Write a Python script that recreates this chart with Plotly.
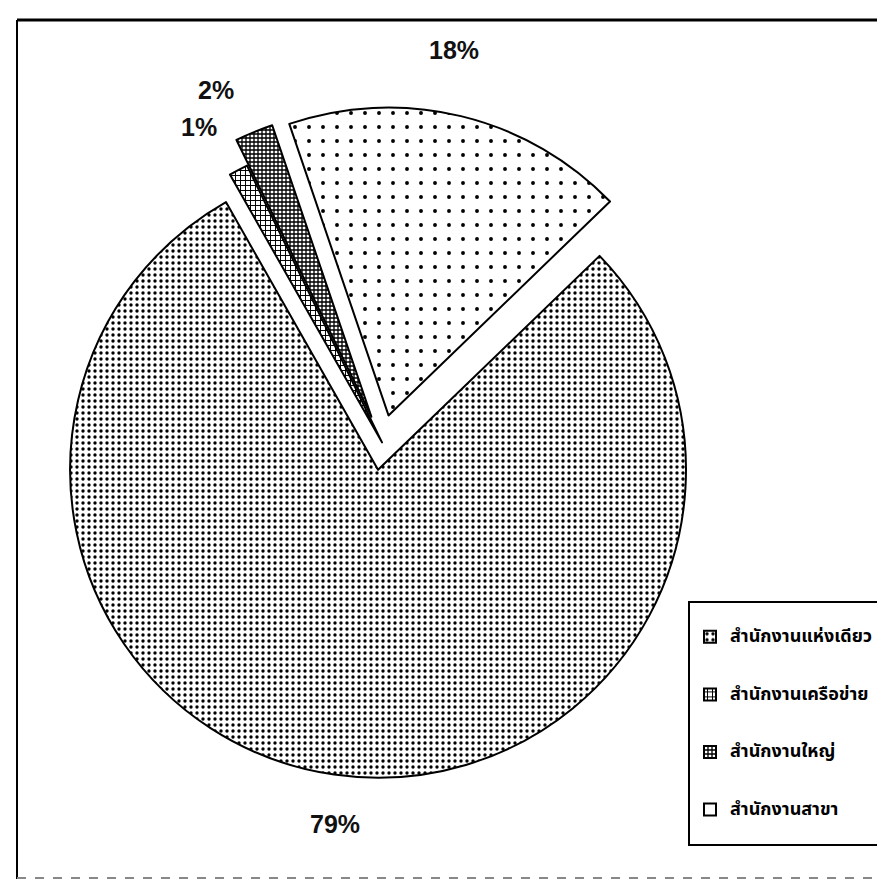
import plotly.graph_objects as go

# ---- data ----
labels = ["สำนักงานแห่งเดียว", "สำนักงานเครือข่าย", "สำนักงานใหญ่", "สำนักงานสาขา"]
values = [79, 1, 2, 18]
# outside label positions (pixels) for each slice's percentage text
label_pos = [(327, 816), (191, 119), (208, 82), (446, 42)]

W, H = 885, 879
total = sum(values)
pct_text = [f"{round(v * 100 / total)}%" for v in values]

NB = "\u00a0"
legend_names = [NB + "<br><span style='font-size:18px'><b>" + l + "</b></span><br>" + NB for l in labels]

fig = go.Figure(go.Pie(
    labels=legend_names,
    values=values,
    sort=False,
    direction="clockwise",
    rotation=46,
    pull=[0.09, 0.0, 0.09, 0.09],
    textinfo="none",
    hoverinfo="percent",
    marker=dict(
        colors=["white"] * 4,
        line=dict(color="black", width=2),
        pattern=dict(
            shape=[".", "+", "+", "."],
            fgcolor="black",
            bgcolor="white",
            size=[6, 5, 4, 14],
            solidity=[0.25, 0.35, 0.55, 0.06],
        ),
    ),
    domain=dict(x=[0.0433, 0.8019], y=[0.124, 0.8877]),
))

annotations = []
for t, (px, py) in zip(pct_text, label_pos):
    annotations.append(dict(
        x=px / W, y=1 - py / H, xref="paper", yref="paper",
        text="<b>" + t + "</b>", showarrow=False,
        font=dict(family="Liberation Sans, Arial, sans-serif", size=25, color="#111"),
        xanchor="center", yanchor="middle",
    ))

shapes = [
    # frame: top, left, right (solid), bottom (faint dashed)
    dict(type="line", xref="paper", yref="paper", x0=9 / W, x1=884 / W, y0=1 - 12 / H, y1=1 - 12 / H,
         line=dict(color="black", width=3)),
    dict(type="line", xref="paper", yref="paper", x0=9 / W, x1=9 / W, y0=1 - 12 / H, y1=1 - 872 / H,
         line=dict(color="black", width=2)),
    dict(type="line", xref="paper", yref="paper", x0=883 / W, x1=883 / W, y0=1 - 12 / H, y1=1 - 872 / H,
         line=dict(color="black", width=2)),
    dict(type="line", xref="paper", yref="paper", x0=9 / W, x1=884 / W, y0=1 - 870 / H, y1=1 - 870 / H,
         line=dict(color="#888", width=2, dash="dash")),
]

fig.update_layout(
    width=W, height=H,
    margin=dict(l=0, r=0, t=0, b=0),
    paper_bgcolor="white",
    plot_bgcolor="white",
    showlegend=True,
    legend=dict(
        x=680 / W, y=1 - 593 / H, xanchor="left", yanchor="top",
        bordercolor="black", borderwidth=2, bgcolor="white",
        font=dict(family="Noto Sans Thai, Noto Sans, Tahoma, sans-serif", size=14, color="black"),
        traceorder="normal", valign="middle",
    ),
    annotations=annotations,
    shapes=shapes,
)

fig.write_html("out.html")
